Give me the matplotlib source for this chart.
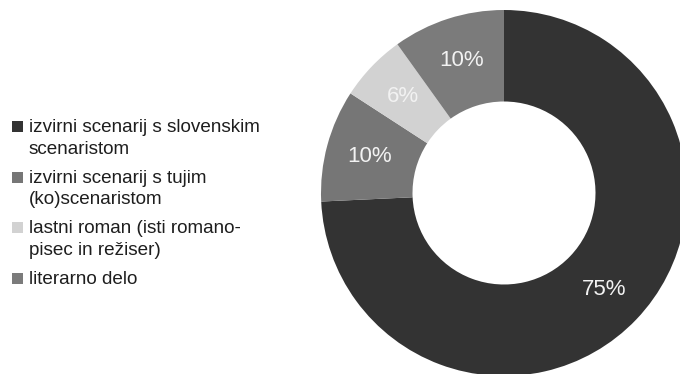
import numpy as np
import matplotlib.pyplot as plt
from matplotlib.patches import Rectangle

deleži = [75, 10, 6, 10]
oznake = ["75%", "10%", "6%", "10%"]
kategorije = [
    "izvirni scenarij s slovenskim\nscenaristom",
    "izvirni scenarij s tujim\n(ko)scenaristom",
    "lastni roman (isti romano-\npisec in režiser)",
    "literarno delo",
]
barve = ["#333333", "#767676", "#d2d2d2", "#7b7b7b"]

W, H = 680, 374
plt.rcParams['font.family'] = ['Liberation Sans', 'DejaVu Sans']
fig = plt.figure(figsize=(W / 100, H / 100), dpi=100)

# krog: središče (504, 193) px, polmer 183 px
cx, cy, r = 504, 193, 183
ax = fig.add_axes([(cx - r) / W, (H - cy - r) / H, 2 * r / W, 2 * r / H])
wedges, _ = ax.pie(deleži, colors=barve, startangle=90, counterclock=False,
                   wedgeprops=dict(width=0.5, linewidth=0))
for w in wedges:
    w.set_clip_on(False)

# napisi odstotkov na sredini obroča
vsota = sum(deleži)
kot = 90.0
for d, t in zip(deleži, oznake):
    sred = np.deg2rad(kot - d / vsota * 360 / 2)
    kot -= d / vsota * 360
    ax.text(0.76 * np.cos(sred), 0.76 * np.sin(sred), t, ha='center',
            va='center', fontsize=16, color='#f2f2f2')
ax.set_xlim(-1, 1)
ax.set_ylim(-1, 1)
ax.set_aspect('equal')
ax.axis('off')

# legenda na levi
baza = 132
korak_vrstice = 22
for txt, c in zip(kategorije, barve):
    fig.patches.append(Rectangle((12 / W, 1 - baza / H), 11 / W, 11 / H,
                                 transform=fig.transFigure, facecolor=c,
                                 edgecolor='none'))
    vrstice = txt.split("\n")
    for i, v in enumerate(vrstice):
        fig.text(29 / W, 1 - (baza + i * korak_vrstice) / H, v,
                 fontsize=13.6, color='#1e1e1e', va='baseline', ha='left')
    baza += len(vrstice) * korak_vrstice + 6.5

fig.savefig("out.png", dpi=100)
